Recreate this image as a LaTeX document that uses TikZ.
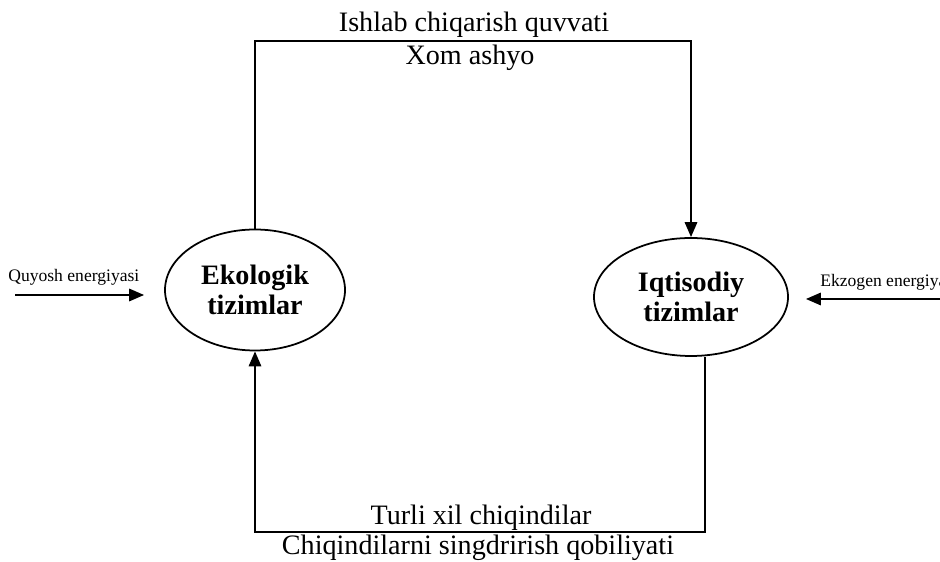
\documentclass[tikz,border=0pt]{standalone}
\usepackage{fontspec}
\setmainfont{Liberation Serif}
\usetikzlibrary{calc,arrows.meta,positioning,shapes.geometric}
\tikzset{
  sysnode/.style={ellipse, draw, line width=1pt, inner sep=0pt, align=center, font=\fontsize{16}{17}\selectfont\bfseries},
  flow/.style={line width=1.2pt},
  flowarr/.style={line width=1.2pt, -{Triangle[length=8.5pt,width=7pt]}},
  biglbl/.style={inner sep=0pt, font=\fontsize{16}{18}\selectfont, anchor=base},
  smalllbl/.style={inner sep=0pt, font=\fontsize{10}{12}\selectfont, anchor=base west},
}
\begin{document}
\begin{tikzpicture}
  \useasboundingbox (0,0) rectangle (18.8,11.24);

  %% --- systems ---
  \node[sysnode, minimum width=3.6cm, minimum height=2.42cm] (eco) at (5.1,5.44) {Ekologik\\tizimlar};
  \node[sysnode, minimum width=3.88cm, minimum height=2.36cm] (iqt) at (13.82,5.3) {Iqtisodiy\\tizimlar};

  % top loop: ecology -> economy
  \coordinate (top) at (9.4,10.42);
  \draw[flowarr] (eco.north) |- (top) -| (iqt.north);
  \node[biglbl] (prod) at (9.48,10.6) {Ishlab chiqarish quvvati};
  \node[biglbl] (raw) at (9.4,9.94) {Xom ashyo};

  % bottom loop: economy -> ecology
  \coordinate (iqtout) at ($(iqt.south)+(0.28,0)$);
  \coordinate (bot) at (9.6,0.6);
  \draw[flowarr] (iqtout) |- (bot) -| (eco.south);
  \node[biglbl] (waste) at (9.62,0.74) {Turli xil chiqindilar};
  \node[biglbl] (absorb) at (9.56,0.14) {Chiqindilarni singdrirish qobiliyati};

  %% --- outside energy ---
  \coordinate (sun) at (0.3,5.34);
  \draw[flowarr, shorten >=0.4cm] (sun) -- (sun -| eco.west);
  \node[smalllbl] (sunlbl) at (0.16,5.6) {Quyosh energiyasi};

  \coordinate (exo) at (18.8,5.26);
  \draw[flowarr, shorten >=0.34cm] (exo) -- (exo -| iqt.east);
  \node[smalllbl] (exolbl) at (16.4,5.5) {Ekzogen energiyasi};
\end{tikzpicture}
\end{document}
